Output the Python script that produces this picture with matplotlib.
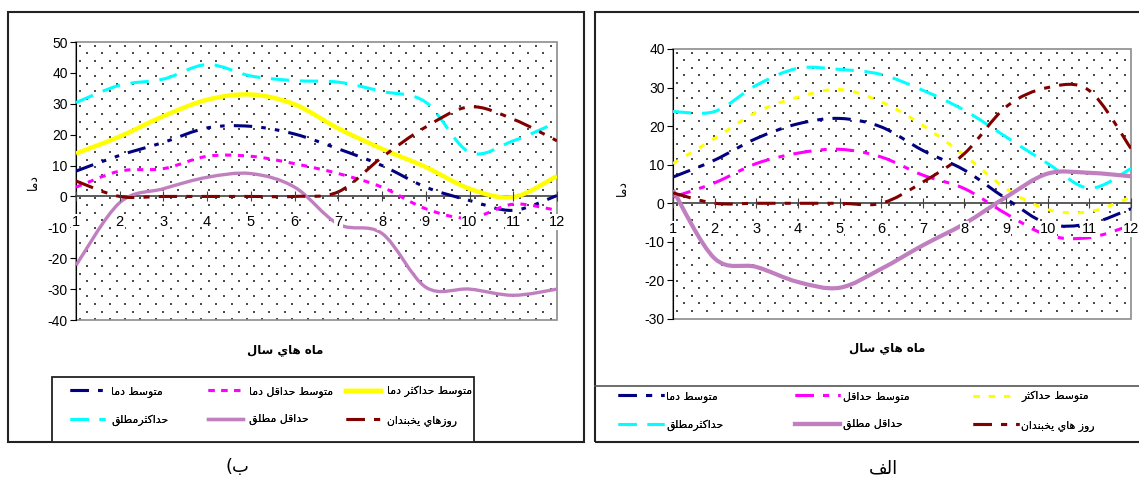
import numpy as np
import matplotlib
matplotlib.use("Agg")
import matplotlib.pyplot as plt
from matplotlib.path import Path
from matplotlib.patches import PathPatch, Rectangle
from matplotlib.lines import Line2D

plt.rcParams['font.family'] = ['Liberation Sans', 'DejaVu Sans']
plt.rcParams['axes.unicode_minus'] = False

months = list(range(1, 13))

# ب) panel
b_mean = [8.2, 13.3, 17.5, 22.2, 22.7, 20.2, 15.4, 10, 3, -1.3, -4.5, 0.3]
b_mean_min = [3, 8.2, 9, 13, 13, 10.6, 7.4, 3, -4, -7, -2.5, -4.5]
b_mean_max = [13.9, 19.4, 26, 31.3, 33, 29.8, 22, 15.4, 9.5, 2.5, -0.2, 6.6]
b_abs_max = [30.4, 36, 38, 42.7, 39, 37.5, 37, 34, 30.5, 14.3, 18, 24]
b_abs_min = [-22.3, -2, 2.5, 6.2, 7.4, 3, -9, -12, -29.4, -30, -32, -30]
b_frost = [5, 0, 0, 0, 0, 0, 1.5, 12.7, 22.5, 29, 25, 18]

# الف panel
a_mean = [6.8, 11.2, 16.8, 20.6, 22, 19.8, 13.7, 8.6, 1.2, -5.3, -5.3, -1.4]
a_mean_min = [1.6, 5.3, 10.3, 13, 14, 12, 7.3, 3.8, -2.7, -8.3, -8.9, -5.7]
a_mean_max = [10.3, 16.8, 23.6, 27.5, 29.5, 26.3, 20.2, 12.4, 3.8, -1.6, -2.2, 1.6]
a_abs_max = [23.8, 23.8, 30.6, 35, 34.7, 33.4, 29.3, 24.1, 17.2, 10.3, 3.9, 9]
a_abs_min = [3.4, -14.3, -16.5, -20.4, -21.9, -17, -10.9, -5.3, 1.6, 7.7, 7.9, 7]
a_frost = [2.7, 0, 0, 0, 0, 0, 5.5, 12.9, 25, 30, 29.2, 14.2]

# Arabic letters: isolated, final, initial, medial (None = does not join forward)
FORMS = {
    'ا': ('\uFE8D', '\uFE8E', None, None),
    'ب': ('\uFE8F', '\uFE90', '\uFE91', '\uFE92'),
    'ت': ('\uFE95', '\uFE96', '\uFE97', '\uFE98'),
    'ث': ('\uFE99', '\uFE9A', '\uFE9B', '\uFE9C'),
    'ح': ('\uFEA1', '\uFEA2', '\uFEA3', '\uFEA4'),
    'خ': ('\uFEA5', '\uFEA6', '\uFEA7', '\uFEA8'),
    'د': ('\uFEA9', '\uFEAA', None, None),
    'ر': ('\uFEAD', '\uFEAE', None, None),
    'ز': ('\uFEAF', '\uFEB0', None, None),
    'س': ('\uFEB1', '\uFEB2', '\uFEB3', '\uFEB4'),
    'ط': ('\uFEC1', '\uFEC2', '\uFEC3', '\uFEC4'),
    'ف': ('\uFED1', '\uFED2', '\uFED3', '\uFED4'),
    'ق': ('\uFED5', '\uFED6', '\uFED7', '\uFED8'),
    'ك': ('\uFED9', '\uFEDA', '\uFEDB', '\uFEDC'),
    'ل': ('\uFEDD', '\uFEDE', '\uFEDF', '\uFEE0'),
    'م': ('\uFEE1', '\uFEE2', '\uFEE3', '\uFEE4'),
    'ن': ('\uFEE5', '\uFEE6', '\uFEE7', '\uFEE8'),
    'ه': ('\uFEE9', '\uFEEA', '\uFEEB', '\uFEEC'),
    'و': ('\uFEED', '\uFEEE', None, None),
    'ي': ('\uFEF1', '\uFEF2', '\uFEF3', '\uFEF4'),
}


def shape(text):
    # contextual forms, then reversed for left-to-right drawing
    out = []
    for i, ch in enumerate(text):
        if ch not in FORMS:
            out.append(ch)
            continue
        prev = text[i - 1] if i > 0 else ''
        nxt = text[i + 1] if i + 1 < len(text) else ''
        jp = prev in FORMS and FORMS[prev][2] is not None
        jn = nxt in FORMS and FORMS[ch][2] is not None
        iso, fin, ini, med = FORMS[ch]
        if jp and jn:
            out.append(med)
        elif jp:
            out.append(fin)
        elif jn:
            out.append(ini)
        else:
            out.append(iso)
    return ''.join(reversed(out))


def smooth_path(x, y):
    # Catmull-Rom segments turned into cubic Bezier pieces
    p = np.column_stack([x, y]).astype(float)
    pts = np.vstack([p[0], p, p[-1]])
    verts = [p[0]]
    codes = [Path.MOVETO]
    for i in range(1, len(pts) - 2):
        p0, p1, p2, p3 = pts[i - 1], pts[i], pts[i + 1], pts[i + 2]
        c1 = p1 + (p2 - p0) / 6.0
        c2 = p2 - (p3 - p1) / 6.0
        verts += [c1, c2, p2]
        codes += [Path.CURVE4] * 3
    return Path(verts, codes)


def dot_texture(w, h, step=7.6):
    # staggered dotted fill for the plot area, one array cell per pixel
    img = np.ones((h, w))
    for k, r in enumerate(np.arange(3, h - 1, step)):
        for c in np.arange(3 + (k % 2) * step, w - 1, 2 * step):
            img[int(r):int(r) + 2, int(c):int(c) + 2] = 0.3
    return img


W, H = 1139, 479
fig = plt.figure(figsize=(W / 100, H / 100), dpi=100)
fig.patch.set_facecolor('white')


def px(x0, y0, x1, y1):
    return [x0 / W, 1 - y1 / H, (x1 - x0) / W, (y1 - y0) / H]


def setup_axes(box, ylo, yhi):
    x0, y0, x1, y1 = box
    ax = fig.add_axes(px(*box))
    ax.imshow(dot_texture(x1 - x0, y1 - y0), cmap='gray', vmin=0, vmax=1,
              extent=(1, 12, ylo, yhi), aspect='auto', interpolation='nearest', zorder=0)
    ax.set_xlim(1, 12)
    ax.set_ylim(ylo, yhi)
    ax.add_patch(Rectangle((0, 0), 1, 1, transform=ax.transAxes, facecolor='none',
                           edgecolor='#8c8c8c', linewidth=1.2, zorder=1, clip_on=False))
    for s in ['top', 'right']:
        ax.spines[s].set_visible(False)
    ax.spines['left'].set_color('black')
    ax.spines['bottom'].set_position(('data', 0))
    ax.spines['bottom'].set_color('#404040')
    ax.spines['bottom'].set_linewidth(1.2)
    ax.set_yticks(range(ylo, yhi + 1, 10))
    ax.set_xticks(months)
    ax.tick_params(axis='y', direction='out', length=4, labelsize=10, pad=2)
    ax.tick_params(axis='x', direction='inout', length=7, labelsize=10.5, pad=10,
                   color='#404040')
    for lab in ax.get_xticklabels():
        lab.set_bbox(dict(facecolor='white', edgecolor='none', pad=0.5))
    # month labels sit on top of the curves
    ax.xaxis.set_zorder(4)
    return ax


def draw(ax, series):
    handles = []
    for y, color, lw, ls, label in series:
        patch = PathPatch(smooth_path(months, y), facecolor='none', edgecolor=color,
                          linewidth=lw, linestyle=ls, capstyle='butt', zorder=3)
        ax.add_patch(patch)
        handles.append(Line2D([], [], color=color, linewidth=lw, linestyle=ls,
                              label=shape(label)))
    return handles


def legend_columns(handles, xs, y_top, hlen, gap, spacing, size):
    # one small legend per column, two rows each
    for col, x in enumerate(xs):
        leg = fig.legend(handles=[handles[col], handles[col + 3]], loc='upper left',
                         bbox_to_anchor=(x / W, 1 - y_top / H), frameon=False,
                         borderaxespad=0, borderpad=0, handlelength=hlen,
                         handletextpad=gap, labelspacing=spacing,
                         prop={'family': ['DejaVu Sans'], 'size': size})
        fig.add_artist(leg)


NAVY, MAG, YEL, CYAN, LAV, DRED = '#000080', '#ff00ff', '#ffff00', '#00ffff', '#c080c0', '#800000'

# outer frames
fig.add_artist(Rectangle((8 / W, 1 - 442 / H), 576 / W, 430 / H, transform=fig.transFigure,
                         facecolor='none', edgecolor='#222222', linewidth=1.5))
fig.add_artist(Rectangle((595 / W, 1 - 442 / H), 560 / W, 430 / H, transform=fig.transFigure,
                         facecolor='none', edgecolor='#222222', linewidth=1.5, clip_on=False))

# panel ب
axb = setup_axes((76, 42, 557, 320), -40, 50)
hb = draw(axb, [
    (b_mean, NAVY, 2.2, (0, (6, 3, 1.5, 3, 1.5, 3)), 'متوسط دما'),
    (b_mean_min, MAG, 2.2, (0, (2, 2.2)), 'متوسط حداقل دما'),
    (b_mean_max, YEL, 3.2, '-', 'متوسط حداكثر دما'),
    (b_abs_max, CYAN, 2.2, (0, (6, 3.5)), 'حداكثرمطلق'),
    (b_abs_min, LAV, 2.4, '-', 'حداقل مطلق'),
    (b_frost, DRED, 2.2, (0, (6, 3, 2, 3)), 'روزهاي يخبندان'),
])

# panel الف
axa = setup_axes((673, 49, 1131, 319), -30, 40)
ha = draw(axa, [
    (a_mean, NAVY, 2.2, (0, (6, 3, 2, 3)), 'متوسط دما'),
    (a_mean_min, MAG, 2.2, (0, (6, 3, 2, 3)), 'متوسط حداقل'),
    (a_mean_max, YEL, 2.2, (0, (2, 3)), 'متوسط حداكثر'),
    (a_abs_max, CYAN, 2.2, (0, (6, 3.5)), 'حداكثرمطلق'),
    (a_abs_min, LAV, 3.0, '-', 'حداقل مطلق'),
    (a_frost, DRED, 2.2, (0, (6, 3, 2, 3)), 'روز هاي يخبندان'),
])

# legend of panel ب: boxed
fig.add_artist(Rectangle((52 / W, 1 - 442 / H), 422 / W, 65 / H, transform=fig.transFigure,
                         facecolor='white', edgecolor='#222222', linewidth=1.3))
legend_columns(hb, [70, 208, 346], 386, 3.2, 0.6, 1.6, 7.8)

# legend of panel الف: strip under a rule
fig.add_artist(Line2D([595 / W, 1], [1 - 386 / H, 1 - 386 / H], transform=fig.transFigure,
                      color='#555555', linewidth=1.2))
legend_columns(ha, [618, 795, 973], 391, 4.2, 0.25, 1.6, 7.8)

# axis titles
xtitle = shape('ماه هاي سال')
fig.text(285 / W, 1 - 350 / H, xtitle, ha='center', va='center', fontsize=8.5,
         fontweight='bold', family=['DejaVu Sans'])
fig.text(887 / W, 1 - 348 / H, xtitle, ha='center', va='center', fontsize=8.5,
         fontweight='bold', family=['DejaVu Sans'])
fig.text(33 / W, 1 - 182 / H, shape('دما'), ha='center', va='center', rotation=90,
         fontsize=9, family=['DejaVu Sans'])
fig.text(622 / W, 1 - 188 / H, shape('دما'), ha='center', va='center', rotation=90,
         fontsize=9, family=['DejaVu Sans'])

# panel captions
fig.text(237 / W, 1 - 467 / H, '(' + shape('ب'), ha='center', va='center', fontsize=13,
         family=['DejaVu Sans'])
fig.text(883 / W, 1 - 468 / H, shape('الف'), ha='center', va='center', fontsize=13,
         family=['DejaVu Sans'])

fig.savefig('out.png', dpi=100)
